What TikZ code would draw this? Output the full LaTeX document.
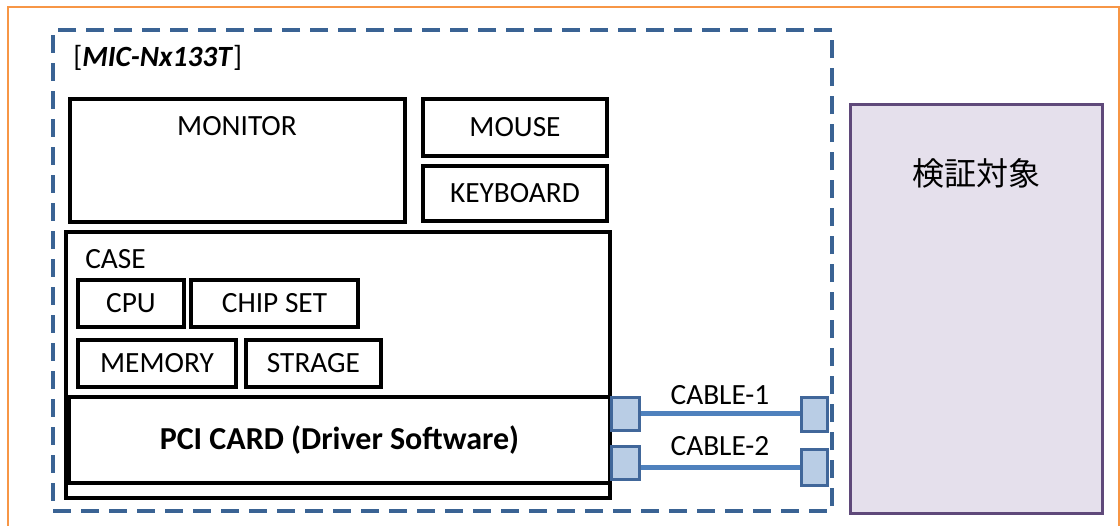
\documentclass[tikz,border=0pt]{standalone}
\usepackage{fontspec}
\setmainfont{Carlito}
\newfontfamily\cjk{Noto Sans CJK JP}
\usetikzlibrary{fit}
\definecolor{orangeline}{HTML}{F79646}
\definecolor{dashblue}{HTML}{3A6394}
\definecolor{connfill}{HTML}{B9CDE5}
\definecolor{connline}{HTML}{41679A}
\definecolor{cableblue}{HTML}{4F81BD}
\definecolor{purpleline}{HTML}{5F497A}
\definecolor{purplefill}{HTML}{E5E0EC}
\begin{document}
\begin{tikzpicture}[x=0.75pt,y=-0.75pt,
  txt/.style={font=\fontsize{22}{26}\selectfont, inner sep=0pt, text=black},
  box/.style={draw=black, line width=3pt, inner sep=0pt, fill=white, rectangle},
  frame/.style={draw=orangeline, line width=1.5pt, inner sep=0pt, rectangle},
  dashframe/.style={draw=dashblue, line width=2.5pt, inner sep=0pt, rectangle,
              dash pattern=on 13.5pt off 7.5pt},
  target/.style={draw=purpleline, fill=purplefill, line width=2.25pt, inner sep=0pt, rectangle},
  conn/.style={draw=connline, fill=connfill, line width=2.25pt, inner sep=0pt, rectangle},
  cable/.style={draw=cableblue, line width=3.75pt}
]
\useasboundingbox (0,0) rectangle (1120,525);
\clip (0,0) rectangle (1120,525);
\fill[white] (0,0) rectangle (1120,525);

\node[frame, fit={(8,7) (1119,545)}] (outer) {};
\node[dashframe, fit={(53,30) (832,511)}] (mic) {};
\node[txt, anchor=west] (miclabel) at (73,58) {[\textbf{\textit{MIC-Nx133T}}]};

\node[box, fit={(70,99) (405,222)}] (monitor) {};
\node[txt] (monitortxt) at (237,126) {MONITOR};
\node[box, fit={(423,99) (607,156)}] (mouse) {};
\node[txt] (mousetxt) at (mouse.center) {MOUSE};
\node[box, fit={(423,166) (607,221)}] (keyboard) {};
\node[txt] (keyboardtxt) at (keyboard.center) {KEYBOARD};

\node[box, fit={(66,232) (610,498)}] (case) {};
\node[txt, anchor=west] (casetxt) at (85,259) {CASE};
\node[box, fit={(78,280) (184,327)}] (cpu) {};
\node[txt] (cputxt) at (cpu.center) {CPU};
\node[box, fit={(191,280) (358,327)}] (chipset) {};
\node[txt] (chipsettxt) at (chipset.center) {CHIP SET};
\node[box, fit={(78,340) (236,387)}] (memory) {};
\node[txt] (memorytxt) at (memory.center) {MEMORY};
\node[box, fit={(246,340) (381,387)}] (strage) {};
\node[txt] (stragetxt) at (strage.center) {STRAGE};
\node[box, fit={(69,397) (610,483)}] (pci) {};
\node[txt, font=\fontsize{24}{28}\selectfont\bfseries] (pcitxt) at (pci.center) {PCI CARD (Driver Software)};

\node[target, fit={(850,104) (1102,513)}] (dut) {};
\node[inner sep=0pt, font=\fontsize{24}{28}\cjk] (duttxt) at (976,173) {検証対象};

\node[conn, fit={(611,397) (639,430)}] (c1l) {};
\node[conn, fit={(611,446) (639,479)}] (c2l) {};
\node[conn, fit={(801,397) (827,431)}] (c1r) {};
\node[conn, fit={(801,449) (827,485)}] (c2r) {};

\draw[cable] (c1l.east) -- (c1l.east -| c1r.west);
\draw[cable] (c2l.east |- c2r.west) -- (c2r.west);

\node[txt] (cable1) at (720,395) {CABLE-1};
\node[txt] (cable2) at (720,446) {CABLE-2};
\end{tikzpicture}
\end{document}
